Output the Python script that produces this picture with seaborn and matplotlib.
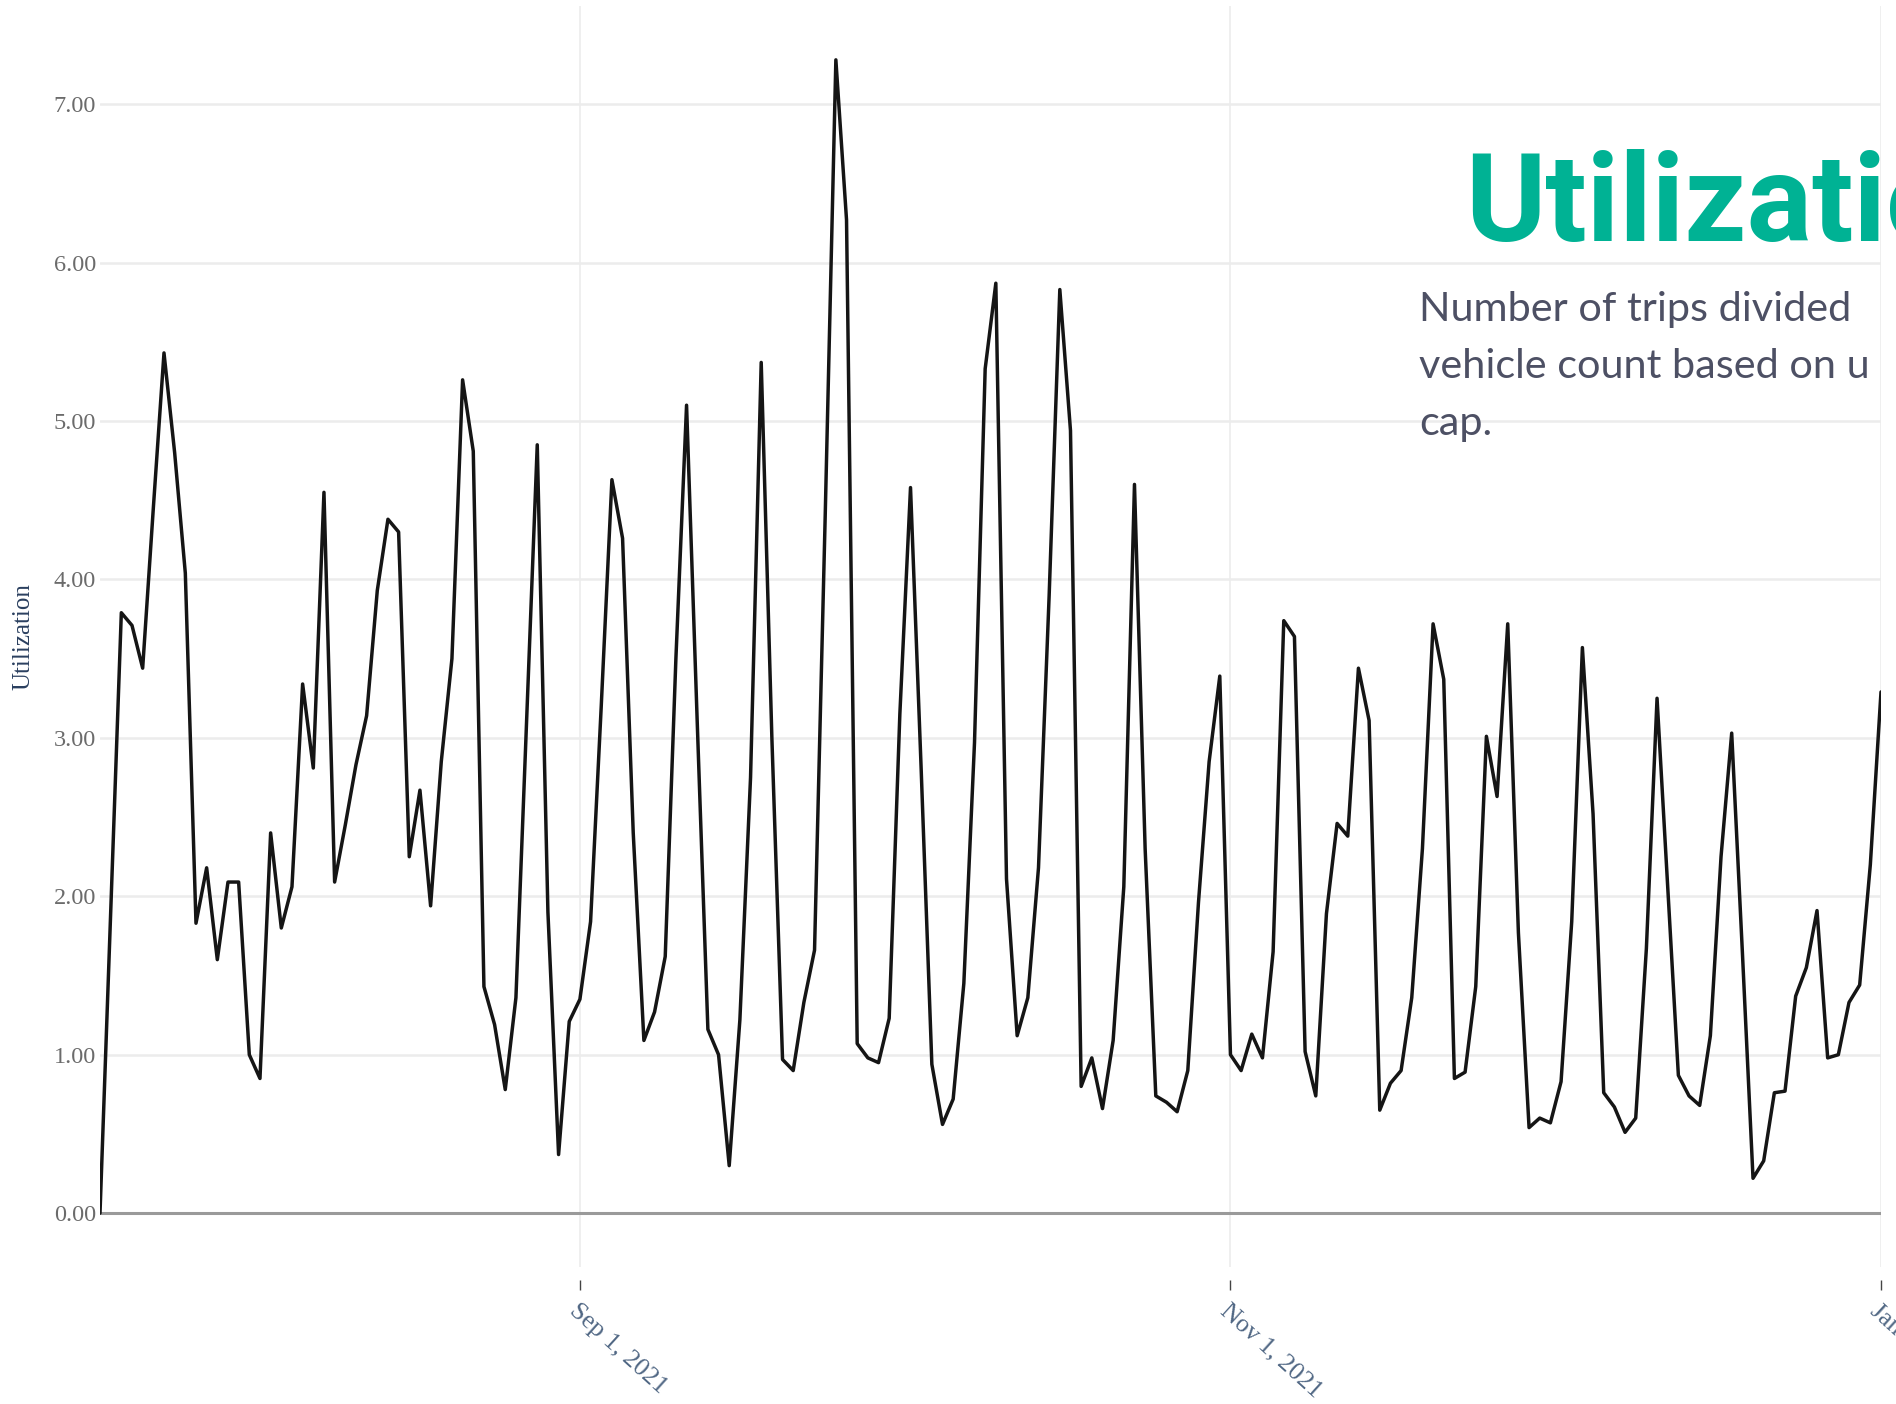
import pandas as pd
import seaborn as sns
import matplotlib.pyplot as plt

# daily utilization, Jul 18 2021 .. Jan 1 2022
start_date = "2021-07-18"
end_date = "2022-01-01"
utilization = [
    0.00, 1.90, 3.79, 3.71, 3.44, 4.45, 5.43, 4.80, 4.04, 1.83,
    2.18, 1.60, 2.09, 2.09, 1.00, 0.85, 2.40, 1.80, 2.06, 3.34,
    2.81, 4.55, 2.09, 2.45, 2.83, 3.14, 3.93, 4.38, 4.30, 2.25,
    2.67, 1.94, 2.85, 3.50, 5.26, 4.81, 1.43, 1.19, 0.78, 1.36,
    3.10, 4.85, 1.90, 0.37, 1.21, 1.35, 1.84, 3.20, 4.63, 4.26,
    2.40, 1.09, 1.27, 1.62, 3.50, 5.10, 3.10, 1.16, 1.00, 0.30,
    1.22, 2.75, 5.37, 3.00, 0.97, 0.90, 1.33, 1.66, 4.40, 7.28,
    6.27, 1.07, 0.98, 0.95, 1.23, 3.15, 4.58, 2.80, 0.94, 0.56,
    0.72, 1.45, 2.97, 5.33, 5.87, 2.11, 1.12, 1.36, 2.18, 3.90,
    5.83, 4.94, 0.80, 0.98, 0.66, 1.09, 2.06, 4.60, 2.30, 0.74,
    0.70, 0.64, 0.90, 1.96, 2.85, 3.39, 1.00, 0.90, 1.13, 0.98,
    1.65, 3.74, 3.64, 1.02, 0.74, 1.89, 2.46, 2.38, 3.44, 3.11,
    0.65, 0.82, 0.90, 1.36, 2.30, 3.72, 3.37, 0.85, 0.89, 1.43,
    3.01, 2.63, 3.72, 1.77, 0.54, 0.60, 0.57, 0.83, 1.84, 3.57,
    2.52, 0.76, 0.67, 0.51, 0.60, 1.67, 3.25, 2.06, 0.87, 0.74,
    0.68, 1.12, 2.25, 3.03, 1.65, 0.22, 0.33, 0.76, 0.77, 1.37,
    1.55, 1.91, 0.98, 1.00, 1.33, 1.44, 2.20, 3.29,
]

x_tick_dates = ["2021-09-01", "2021-11-01", "2022-01-01"]
x_tick_labels = ["Sep 1, 2021", "Nov 1, 2021", "Jan 1, 2022"]
y_ticks = [0, 1, 2, 3, 4, 5, 6, 7]

title_text = "Utilization"
subtitle_lines = ["Number of trips divided", "vehicle count based on u", "cap."]

df = pd.DataFrame({
    "date": pd.date_range(start_date, end_date, freq="D"),
    "Utilization": utilization,
})

sns.set_theme(style="white")
plt.rcParams["font.family"] = ["Liberation Serif", "DejaVu Serif"]

W, H = 1896, 1404
fig = plt.figure(figsize=(W / 100, H / 100), dpi=100)
ax = fig.add_axes([100 / W, 1 - 1267 / H, (1881 - 100) / W, (1267 - 6) / H])

# light plotly-like grid
for d in pd.to_datetime(x_tick_dates):
    ax.axvline(d, color="#ececec", lw=1.2, zorder=0)
for v in y_ticks[1:]:
    ax.axhline(v, color="#ececec", lw=1.8, zorder=0)
ax.axhline(0, color="#9a9a9a", lw=2.2, zorder=1)

sns.lineplot(data=df, x="date", y="Utilization", color="#151515", lw=2.5, ax=ax, zorder=3)

ax.set_xlim(df["date"].iloc[0], df["date"].iloc[-1])
ax.set_ylim(-0.34, 7.62)

# spine position first: moving it resets the ticks
for s in ax.spines.values():
    s.set_visible(False)
ax.spines["bottom"].set_position(("outward", 9.5))

ax.set_xticks(pd.to_datetime(x_tick_dates))
ax.set_xticklabels(x_tick_labels, rotation=-42, ha="left", va="top",
                   rotation_mode="anchor", color="#506784", fontsize=18.5)
ax.set_yticks(y_ticks)
ax.set_yticklabels([f"{v:.2f}" for v in y_ticks], color="#6b6b6b", fontsize=17.5)

ax.tick_params(axis="x", bottom=True, length=7, width=1, color="#444444", pad=7)
ax.tick_params(axis="y", left=False, length=0, pad=3)

ax.set_xlabel("")
ax.set_ylabel("Utilization", color="#2a3f5f", fontsize=18)
ax.yaxis.set_label_coords(-0.037, 0.5)

# slide overlay text
fig.text(1465 / W, 1 - 241 / H, title_text, color="#00b294", fontsize=88,
         fontweight="bold", family=["Roboto", "DejaVu Sans"], va="baseline", ha="left")
for i, line in enumerate(subtitle_lines):
    fig.text(1419 / W, 1 - (321 + i * 57) / H, line, color="#4d5064", fontsize=29.8,
             family=["Lato", "DejaVu Sans"], va="baseline", ha="left")

fig.savefig("out.png", dpi=100)
